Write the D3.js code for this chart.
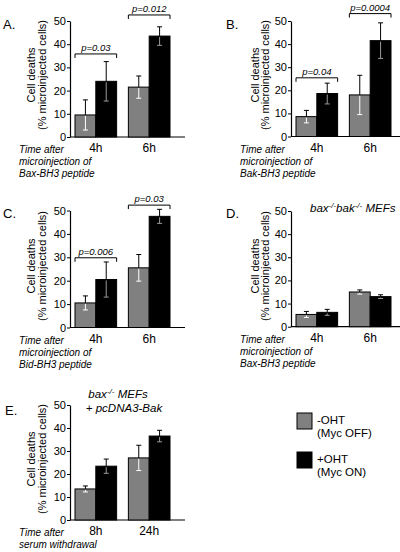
<!DOCTYPE html>
<html><head><meta charset="utf-8">
<script src="https://cdn.jsdelivr.net/npm/d3@7/dist/d3.min.js"></script>
<style>
body{margin:0;background:#fff;}
svg{display:block;}
text{font-family:"Liberation Sans",Arial,sans-serif;fill:#000;}
</style></head>
<body>
<svg id="chart" width="400" height="552"></svg>
<script>
// ---------- data ----------
const timesMicro = ["4h", "6h"];
const timesSerum = ["8h", "24h"];
const seriesNames = ["-OHT (Myc OFF)", "+OHT (Myc ON)"];
const yTicks = [0, 10, 20, 30, 40, 50];

const aOff = [9.5, 21.5],  aOffSd = [6.5, 4.8];
const aOn  = [24, 43.5],   aOnSd  = [8.5, 4];
const aPvals = ["p=0.03", "p=0.012"], aPlevels = [35.8, 52.6];

const bOff = [8.6, 18],    bOffSd = [2.7, 8.5];
const bOn  = [18.6, 41.5], bOnSd  = [4.5, 7.7];
const bPvals = ["p=0.04", "p=0.0004"], bPlevels = [25.4, 53.2];

const cOff = [10.5, 25.5], cOffSd = [3, 5.7];
const cOn  = [20.5, 47.5], cOnSd  = [7.5, 3];
const cPvals = ["p=0.006", "p=0.03"], cPlevels = [29.8, 52.3];

const dOff = [5.3, 15],    dOffSd = [1.3, 0.9];
const dOn  = [6.2, 13],    dOnSd  = [1.3, 0.8];

const eOff = [13.5, 27],   eOffSd = [1.3, 5.5];
const eOn  = [23.4, 36.5], eOnSd  = [3.1, 2.5];

// ---------- drawing ----------
const svg = d3.select("#chart");
svg.append("rect").attr("width",400).attr("height",552).attr("fill","#fff");
const fills = ["#808080", "#000000"];
const innerErr = ["#ffffff", "#9a9a9a"];

function panel(cfg) {
  const g = svg.append("g");
  const y = d3.scaleLinear().domain([0, 50]).range([cfg.y0, cfg.y50]);
  const x = d3.scaleBand().domain(cfg.groups)
    .range([cfg.ax + 5, cfg.ax + 100]).paddingInner(0.22);
  const xs = d3.scaleBand().domain(seriesNames).range([0, x.bandwidth()]);

  // axes
  const yAxis = d3.axisLeft(y).tickValues(yTicks).tickSize(3).tickSizeOuter(0);
  const ga = g.append("g").attr("transform", `translate(${cfg.ax},0)`).call(yAxis);
  ga.select(".domain").attr("stroke","#000").attr("stroke-width",1.2);
  ga.selectAll(".tick line").attr("stroke","#000");
  ga.selectAll(".tick text").attr("font-size",11).attr("x",-4)
    .style("font-family","'Liberation Sans',Arial,sans-serif");
  g.append("line").attr("x1", cfg.ax).attr("x2", cfg.ax + 115)
    .attr("y1", y(0)).attr("y2", y(0)).attr("stroke","#000").attr("stroke-width",1.2);

  // bars
  const rows = [];
  cfg.groups.forEach((grp, i) => {
    rows.push({grp, s: 0, v: cfg.off[i], sd: cfg.offSd[i]});
    rows.push({grp, s: 1, v: cfg.on[i], sd: cfg.onSd[i]});
  });
  rows.forEach(r => {
    const bx = x(r.grp) + xs(seriesNames[r.s]);
    const bw = xs.bandwidth();
    g.append("rect").attr("x", bx).attr("y", y(r.v)).attr("width", bw)
      .attr("height", y(0) - y(r.v)).attr("fill", fills[r.s])
      .attr("stroke","#000").attr("stroke-width",1);
    const cx = bx + bw / 2, top = y(r.v + r.sd), bot = y(r.v - r.sd), bt = y(r.v);
    g.append("line").attr("x1",cx).attr("x2",cx).attr("y1",top).attr("y2",bt)
      .attr("stroke","#000").attr("stroke-width",1);
    g.append("line").attr("x1",cx-2.5).attr("x2",cx+2.5).attr("y1",top).attr("y2",top)
      .attr("stroke","#000").attr("stroke-width",1);
    g.append("line").attr("x1",cx).attr("x2",cx).attr("y1",bt+1).attr("y2",bot)
      .attr("stroke",innerErr[r.s]).attr("stroke-width",1);
    g.append("line").attr("x1",cx-2.5).attr("x2",cx+2.5).attr("y1",bot).attr("y2",bot)
      .attr("stroke",innerErr[r.s]).attr("stroke-width",1);
  });

  // significance brackets
  if (cfg.pv) {
    cfg.groups.forEach((grp, i) => {
      const by = y(cfg.pl[i]);
      const x1 = x(grp), x2 = x(grp) + x.bandwidth();
      g.append("path").attr("d", `M${x1},${by+4}V${by}H${x2}V${by+4}`)
        .attr("fill","none").attr("stroke","#000").attr("stroke-width",1);
      g.append("text").attr("x",(x1+x2)/2).attr("y",by-3).attr("text-anchor","middle")
        .attr("font-size",9.5).attr("font-style","italic").text(cfg.pv[i]);
    });
  }

  // category labels
  cfg.groups.forEach(grp => {
    g.append("text").attr("x", x(grp) + x.bandwidth()/2).attr("y", y(0) + 15)
      .attr("text-anchor","middle").attr("font-size",12).text(grp);
  });

  // y title
  const cyT = cfg.ymid;
  g.append("text").attr("transform",`translate(${cfg.ax + cfg.t1},${cyT}) rotate(-90)`)
    .attr("text-anchor","middle").attr("font-size",11).text("Cell deaths");
  g.append("text").attr("transform",`translate(${cfg.ax + cfg.t2},${cyT}) rotate(-90)`)
    .attr("text-anchor","middle").attr("font-size",11).text("(% microinjected cells)");

  // panel letter
  g.append("text").attr("x",cfg.lx).attr("y",cfg.ly).attr("font-size",13).text(cfg.letter);

  // x description
  cfg.desc.forEach((t, i) => {
    g.append("text").attr("x",cfg.dx).attr("y",y(0) + 16 + i*12)
      .attr("font-size",10).attr("font-style","italic").text(t);
  });
  return g;
}

panel({ax:70, y0:137, y50:21, ymid:75, t1:-35, t2:-24, groups:timesMicro,
  off:aOff, offSd:aOffSd, on:aOn, onSd:aOnSd, pv:aPvals, pl:aPlevels,
  letter:"A.", lx:3, ly:29, dx:19,
  desc:["Time after","microinjection of","Bax-BH3 peptide"]});
panel({ax:291, y0:136.5, y50:21, ymid:75, t1:-32, t2:-22, groups:timesMicro,
  off:bOff, offSd:bOffSd, on:bOn, onSd:bOnSd, pv:bPvals, pl:bPlevels,
  letter:"B.", lx:226, ly:29, dx:240,
  desc:["Time after","microinjection of","Bak-BH3 peptide"]});
panel({ax:70, y0:327.5, y50:210.5, ymid:266, t1:-35, t2:-24, groups:timesMicro,
  off:cOff, offSd:cOffSd, on:cOn, onSd:cOnSd, pv:cPvals, pl:cPlevels,
  letter:"C.", lx:3, ly:218, dx:19,
  desc:["Time after","microinjection of","Bid-BH3 peptide"]});
panel({ax:291, y0:326.7, y50:211, ymid:266, t1:-32, t2:-22, groups:timesMicro,
  off:dOff, offSd:dOffSd, on:dOn, onSd:dOnSd,
  letter:"D.", lx:226, ly:218, dx:240,
  desc:["Time after","microinjection of","Bax-BH3 peptide"]});
panel({ax:70, y0:520, y50:405, ymid:459, t1:-35, t2:-24, groups:timesSerum,
  off:eOff, offSd:eOffSd, on:eOn, onSd:eOnSd,
  letter:"E.", lx:5, ly:415, dx:19,
  desc:["Time after","serum withdrawal"]});

// panel titles with superscripts
const tD = svg.append("text").attr("x",310).attr("y",212).attr("font-size",11.5).attr("font-style","italic");
tD.append("tspan").text("bax");
tD.append("tspan").attr("dy",-4).attr("font-size",8).text("-/-");
tD.append("tspan").attr("dy",4).text("bak");
tD.append("tspan").attr("dy",-4).attr("font-size",8).text("-/-");
tD.append("tspan").attr("dy",4).text(" MEFs");

const tE = svg.append("text").attr("x",118).attr("y",398).attr("font-size",11.5)
  .attr("font-style","italic").attr("text-anchor","middle");
tE.append("tspan").text("bax");
tE.append("tspan").attr("dy",-4).attr("font-size",8).text("-/-");
tE.append("tspan").attr("dy",4).text(" MEFs");
svg.append("text").attr("x",124).attr("y",412).attr("font-size",11.5)
  .attr("font-style","italic").attr("text-anchor","middle").text("+ pcDNA3-Bak");

// legend
const legendLines = [["-OHT","(Myc OFF)"],["+OHT","(Myc ON)"]];
seriesNames.forEach((s, i) => {
  const ly = 413 + i*39;
  svg.append("rect").attr("x",297).attr("y",ly).attr("width",15).attr("height",16)
    .attr("fill",fills[i]).attr("stroke","#000").attr("stroke-width",1);
  legendLines[i].forEach((t, j) => {
    svg.append("text").attr("x",317).attr("y",ly + 11 + j*13).attr("font-size",11.5).text(t);
  });
});
</script>
</body></html>
